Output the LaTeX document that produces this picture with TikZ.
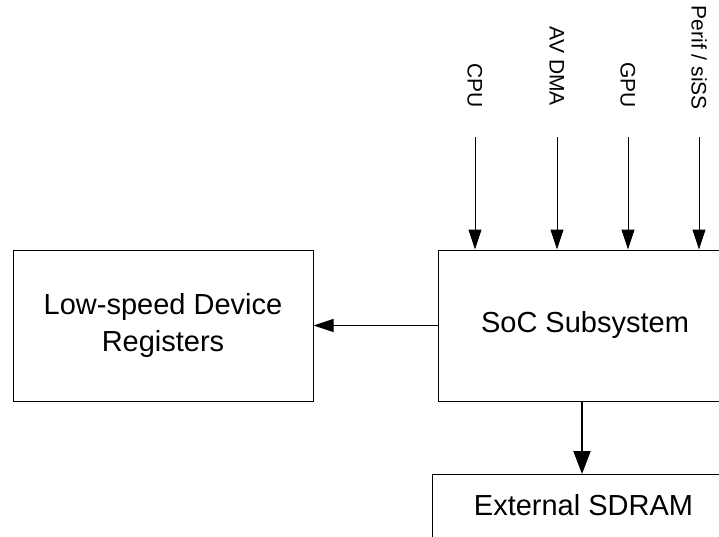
\documentclass[tikz,border=0pt]{standalone}
\usepackage{fontspec}
\setmainfont{Liberation Sans}
\usetikzlibrary{arrows.meta}
\begin{document}
\begin{tikzpicture}[x=1pt,y=-1pt,
  box/.style={draw=black, line width=1pt, rectangle, inner sep=0pt},
  bigtext/.style={font=\fontsize{29}{37}\selectfont, align=center, inner sep=0pt},
  sidelabel/.style={font=\fontsize{21}{25}\selectfont, rotate=-90, anchor=base east, inner sep=0pt},
  feed/.style={-{Triangle[width=13pt,length=20pt]}, line width=1pt},
  mainfeed/.style={-{Triangle[width=17pt,length=23pt]}, line width=2pt}]
\useasboundingbox (0,0) rectangle (719,537);
\clip (0,0) rectangle (719,537);

% blocks
\node[box, bigtext, minimum width=300pt, minimum height=151pt] (lsd) at (163,325.5) {Low-speed Device\\Registers};
\node[box, bigtext, minimum width=294pt, minimum height=151pt] (soc) at (585,325.5) {SoC Subsystem};
\node[box, minimum width=303pt, minimum height=90pt, anchor=north west] (sdram) at (432,474) {};
\node[bigtext, anchor=base] (sdramtext) at (583.5,515) {External SDRAM};

% bus masters feeding the subsystem
\coordinate (cpuin) at (475,137);
\coordinate (avin) at (557,137);
\coordinate (gpuin) at (628,137);
\coordinate (perifin) at (699,137);
\node[sidelabel] (cpulbl) at (467.5,108) {CPU};
\node[sidelabel] (avlbl) at (549.5,106) {AV DMA};
\node[sidelabel] (gpulbl) at (620.5,108) {GPU};
\node[sidelabel] (periflbl) at (691.5,110) {Perif / siSS};
\draw[feed] (cpuin) -- (cpuin |- soc.north);
\draw[feed] (avin) -- (avin |- soc.north);
\draw[feed] (gpuin) -- (gpuin |- soc.north);
\draw[feed] (perifin) -- (perifin |- soc.north);

% outgoing paths
\draw[feed] (soc.west) -- (lsd.east);
\coordinate (memtap) at (582,401);
\draw[mainfeed] (memtap) -- (memtap |- sdram.north);
\end{tikzpicture}
\end{document}
